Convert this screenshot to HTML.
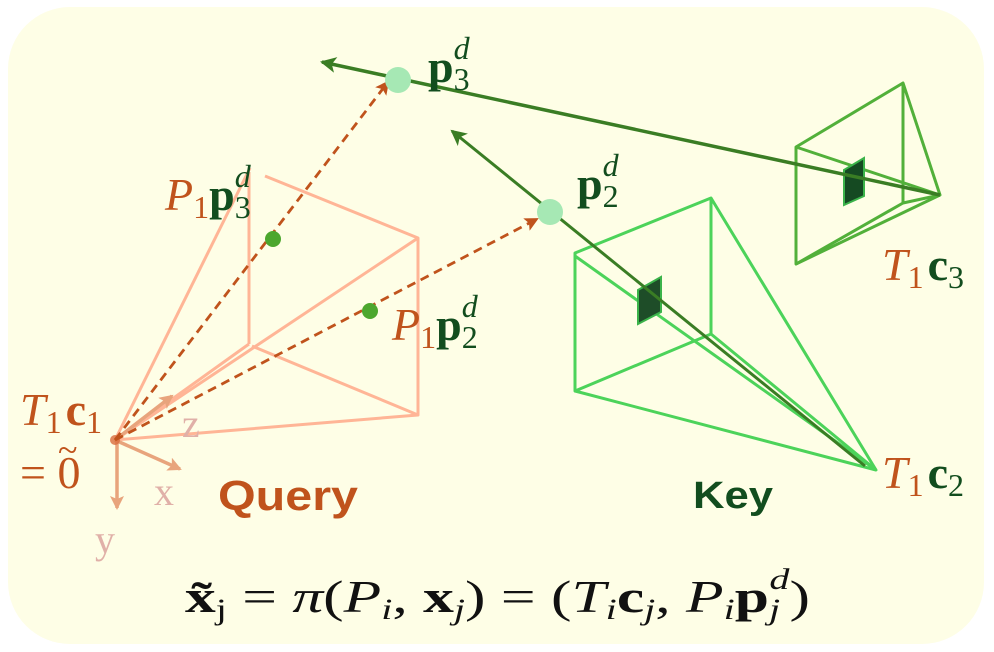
<!DOCTYPE html>
<html><head><meta charset="utf-8"><style>
html,body{margin:0;padding:0;background:#fff;width:994px;height:652px;overflow:hidden}
svg{display:block}
.s{font-family:"Liberation Serif",serif}
</style></head><body>
<svg width="994" height="652" viewBox="0 0 994 652" xmlns="http://www.w3.org/2000/svg">
<defs>
<marker id="ao" markerWidth="14" markerHeight="14" refX="12" refY="7" orient="auto" markerUnits="userSpaceOnUse"><path d="M0,0 L14,7 L0,14 L3,7z" fill="#c0531c"/></marker>
<marker id="ag" markerWidth="16" markerHeight="16" refX="2" refY="8" orient="auto" markerUnits="userSpaceOnUse"><path d="M16,0 L0,8 L16,16 L12,8z" fill="#3a7d24"/></marker>
<marker id="ap" markerWidth="14" markerHeight="14" refX="12" refY="7" orient="auto" markerUnits="userSpaceOnUse"><path d="M0,0 L14,7 L0,14 L3,7z" fill="#e8a47c"/></marker>
</defs>
<rect x="8" y="7" width="976" height="637" rx="62" fill="#fefee6"/>

<g stroke="#ffb596" stroke-width="3" fill="none" stroke-linejoin="round">
<polyline points="115,440 250,168"/>
<polyline points="265,176 418,238 418,415 115,440"/>
<line x1="249" y1="172" x2="249" y2="344"/>
<line x1="115" y1="440" x2="418" y2="238"/>
<line x1="115" y1="440" x2="249" y2="344"/>
<line x1="252" y1="346" x2="418" y2="415"/>
</g>
<g stroke="#e8a47c" stroke-width="3.5">
<line x1="115" y1="440" x2="172" y2="396" marker-end="url(#ap)"/>
<line x1="115" y1="440" x2="180" y2="469" marker-end="url(#ap)"/>
<line x1="117" y1="442" x2="117" y2="508" marker-end="url(#ap)"/>
</g>
<circle cx="115" cy="440" r="5" fill="#d96a3c" opacity="0.8"/>
<g stroke="#c0531c" stroke-width="2.8" stroke-dasharray="9,6" fill="none">
<line x1="115" y1="440" x2="388" y2="82" marker-end="url(#ao)"/>
<line x1="115" y1="440" x2="537" y2="219" marker-end="url(#ao)"/>
</g>
<circle cx="273" cy="239" r="8" fill="#4ca72e"/>
<circle cx="370" cy="311" r="8" fill="#4ca72e"/>

<g stroke="#4cd35a" stroke-width="3" fill="none" stroke-linejoin="round">
<polygon points="575,253 711,198 711,334 575,391"/>
<polyline points="711,198 876,470 575,391"/>
<line x1="575" y1="256" x2="876" y2="470"/>
<line x1="711" y1="334" x2="876" y2="470"/>
</g>
<polygon points="638,290 661,277 661,312 638,324" fill="#1e4d28" stroke="#3bb34a" stroke-width="2"/>
<g stroke="#52b03a" stroke-width="3" fill="none" stroke-linejoin="round">
<polygon points="796,147 903,83 903,203 796,264"/>
<polyline points="903,83 940,195 796,264"/>
<line x1="796" y1="147" x2="940" y2="195"/>
<line x1="903" y1="203" x2="940" y2="195"/>
</g>
<polygon points="844,170 864,158 864,196 844,205" fill="#154a22" stroke="#3bb34a" stroke-width="2"/>
<g stroke="#3a7d24" stroke-width="3.5" fill="none">
<line x1="322" y1="62" x2="940" y2="195" marker-start="url(#ag)"/>
<line x1="452" y1="131" x2="865" y2="466" marker-start="url(#ag)" stroke-width="3"/>
</g>
<circle cx="398" cy="80" r="13" fill="#a6e8b4"/>
<circle cx="550" cy="212" r="13" fill="#a6e8b4"/>

<g class="s" font-size="46">
<text x="428" y="82" fill="#124d1e" font-weight="bold">p<tspan font-size="32" font-weight="normal" dy="8">3</tspan><tspan font-size="32" font-style="italic" font-weight="normal" dx="-16" dy="-31">d</tspan></text>
<text x="577" y="199" fill="#124d1e" font-weight="bold">p<tspan font-size="32" font-weight="normal" dy="8">2</tspan><tspan font-size="32" font-style="italic" font-weight="normal" dx="-16" dy="-31">d</tspan></text>
<text x="165" y="210" fill="#c0531c" font-style="italic">P<tspan font-size="32" font-style="normal" dy="8">1</tspan><tspan fill="#124d1e" font-weight="bold" font-style="normal" dy="-8">p</tspan><tspan fill="#124d1e" font-size="32" font-style="normal" dy="8">3</tspan><tspan fill="#124d1e" font-size="32" dx="-16" dy="-31">d</tspan></text>
<text x="392" y="340" fill="#c0531c" font-style="italic">P<tspan font-size="32" font-style="normal" dy="8">1</tspan><tspan fill="#124d1e" font-weight="bold" font-style="normal" dy="-8">p</tspan><tspan fill="#124d1e" font-size="32" font-style="normal" dy="8">2</tspan><tspan fill="#124d1e" font-size="32" dx="-16" dy="-31">d</tspan></text>
<text x="20" y="425" fill="#c0531c" font-style="italic">T<tspan font-size="32" font-style="normal" dy="8">1</tspan><tspan font-weight="bold" font-style="normal" dy="-8" dx="4">c</tspan><tspan font-size="32" font-style="normal" dy="8">1</tspan></text>
<text x="20" y="488" fill="#c0531c">= 0</text>
<text x="58" y="462" fill="#c0531c" font-size="36">~</text>
<text x="882" y="280" fill="#c0531c" font-style="italic">T<tspan font-size="32" font-style="normal" dy="8">1</tspan><tspan fill="#124d1e" font-weight="bold" font-style="normal" dy="-8" dx="4">c</tspan><tspan fill="#124d1e" font-size="32" font-style="normal" dy="8">3</tspan></text>
<text x="882" y="488" fill="#c0531c" font-style="italic">T<tspan font-size="32" font-style="normal" dy="8">1</tspan><tspan fill="#124d1e" font-weight="bold" font-style="normal" dy="-8" dx="4">c</tspan><tspan fill="#124d1e" font-size="32" font-style="normal" dy="8">2</tspan></text>
</g>
<g class="s" font-size="40" fill="#e0b0a8">
<text x="182" y="437">z</text>
<text x="154" y="505">x</text>
<text x="95" y="553">y</text>
</g>
<text x="218" y="510" font-family="Liberation Sans,sans-serif" font-weight="bold" font-size="42" fill="#c0531c" textLength="140" lengthAdjust="spacingAndGlyphs">Query</text>
<text x="693" y="508" font-family="Liberation Sans,sans-serif" font-weight="bold" font-size="38" fill="#124d1e" textLength="80" lengthAdjust="spacingAndGlyphs">Key</text>

<text x="185" y="612" class="s" font-size="46" fill="#111" textLength="625" lengthAdjust="spacingAndGlyphs"><tspan font-weight="bold">x̃</tspan><tspan font-size="30" dy="7">j</tspan><tspan dy="-7"> = </tspan><tspan font-style="italic">π</tspan>(<tspan font-style="italic">P</tspan><tspan font-size="30" font-style="italic" dy="7">i</tspan><tspan dy="-7">, </tspan><tspan font-weight="bold">x</tspan><tspan font-size="30" font-style="italic" dy="7">j</tspan><tspan dy="-7">) = (</tspan><tspan font-style="italic">T</tspan><tspan font-size="30" font-style="italic" dy="7">i</tspan><tspan font-weight="bold" dy="-7">c</tspan><tspan font-size="30" font-style="italic" dy="7">j</tspan><tspan dy="-7">, </tspan><tspan font-style="italic">P</tspan><tspan font-size="30" font-style="italic" dy="7">i</tspan><tspan font-weight="bold" dy="-7">p</tspan><tspan font-size="30" font-style="italic" dy="7">j</tspan><tspan font-size="30" font-style="italic" dx="-8" dy="-30">d</tspan><tspan dy="23">)</tspan></text>
</svg>
</body></html>
